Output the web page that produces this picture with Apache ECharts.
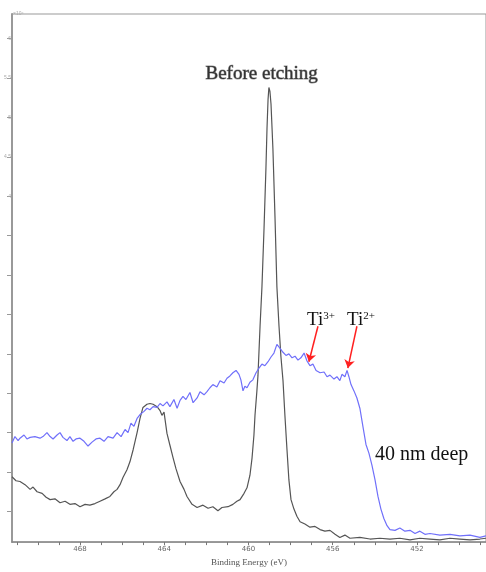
<!DOCTYPE html>
<html>
<head>
<meta charset="utf-8">
<script src="https://cdn.jsdelivr.net/npm/echarts@6/dist/echarts.min.js"></script>
<style>
  html, body { margin: 0; padding: 0; background: #fff; }
  #chart { width: 486px; height: 572px; }
</style>
</head>
<body>
<div id="chart"></div>
<script>
  // binding energy (eV) / intensity (x10^4 counts)
  var beforeEtching = [
    [471.23,0.44],[471.04,0.39],[470.85,0.38],[470.61,0.34],[470.37,0.28],[470.23,0.31],[470.04,0.25],[469.80,0.23],
    [469.61,0.18],[469.42,0.15],[469.19,0.16],[468.95,0.11],[468.71,0.13],[468.48,0.09],[468.24,0.10],[468.00,0.06],
    [467.76,0.09],[467.53,0.08],[467.29,0.10],[467.05,0.13],[466.81,0.16],[466.58,0.19],[466.39,0.25],[466.24,0.28],
    [466.10,0.34],[465.96,0.43],[465.77,0.53],[465.63,0.63],[465.48,0.78],[465.29,1.00],[465.15,1.18],[465.01,1.32],
    [464.82,1.36],[464.68,1.37],[464.53,1.36],[464.34,1.33],[464.20,1.28],[464.11,1.22],[464.01,1.26],[463.87,0.99],
    [463.73,0.84],[463.58,0.68],[463.44,0.54],[463.25,0.38],[463.06,0.28],[462.92,0.19],[462.68,0.09],[462.44,0.05],
    [462.16,0.08],[461.92,0.04],[461.69,0.06],[461.45,0.01],[461.26,0.05],[460.97,0.06],[460.74,0.09],[460.55,0.13],
    [460.40,0.15],[460.21,0.23],[460.07,0.30],[459.93,0.46],[459.83,0.68],[459.74,0.97],[459.69,1.22],[459.60,1.53],
    [459.55,1.72],[459.45,2.35],[459.36,2.85],[459.26,3.60],[459.17,4.36],[459.12,4.86],[459.07,5.23],[459.03,5.38],
    [458.98,5.33],[458.93,5.17],[458.88,4.86],[458.84,4.61],[458.74,3.73],[458.65,2.85],[458.55,2.35],[458.46,1.97],
    [458.36,1.66],[458.27,1.22],[458.17,0.78],[458.08,0.40],[457.98,0.15],[457.84,0.03],[457.70,-0.06],[457.55,-0.13],
    [457.32,-0.16],[457.08,-0.20],[456.84,-0.19],[456.60,-0.23],[456.37,-0.25],[456.13,-0.24],[455.89,-0.29],[455.66,-0.33],
    [455.42,-0.30],[455.18,-0.34],[454.71,-0.33],[454.23,-0.35],[453.76,-0.34],[453.28,-0.35],[452.81,-0.34],[452.33,-0.36],
    [451.86,-0.34],[451.38,-0.35],[450.91,-0.36],[450.43,-0.34],[449.96,-0.35],[449.48,-0.36],[449.01,-0.35],[448.72,-0.34]
  ];

  var deep40nm = [
    [471.23,0.87],[471.09,0.95],[470.94,0.90],[470.85,0.93],[470.66,0.97],[470.52,0.92],[470.37,0.94],[470.14,0.95],
    [469.90,0.93],[469.76,0.95],[469.57,1.00],[469.42,0.95],[469.28,0.92],[469.09,0.97],[468.95,1.00],[468.81,0.94],
    [468.62,0.90],[468.48,0.95],[468.33,0.89],[468.19,0.92],[468.00,0.93],[467.81,0.89],[467.62,0.83],[467.43,0.88],
    [467.24,0.92],[467.05,0.93],[466.86,0.89],[466.67,0.95],[466.43,0.93],[466.24,1.00],[466.05,0.95],[465.86,1.04],
    [465.72,1.00],[465.58,1.12],[465.44,1.08],[465.29,1.18],[465.15,1.23],[464.96,1.27],[464.82,1.31],[464.68,1.29],
    [464.53,1.33],[464.34,1.32],[464.20,1.37],[464.06,1.34],[463.87,1.39],[463.73,1.33],[463.54,1.42],[463.39,1.31],
    [463.25,1.41],[463.11,1.46],[462.97,1.42],[462.78,1.51],[462.63,1.38],[462.44,1.44],[462.30,1.52],[462.11,1.48],
    [461.97,1.52],[461.83,1.57],[461.69,1.61],[461.50,1.58],[461.35,1.66],[461.16,1.63],[461.02,1.69],[460.88,1.72],
    [460.74,1.76],[460.59,1.79],[460.45,1.74],[460.36,1.67],[460.26,1.53],[460.17,1.59],[460.07,1.57],[459.93,1.64],
    [459.79,1.67],[459.64,1.76],[459.50,1.82],[459.36,1.87],[459.22,1.85],[459.07,1.90],[458.93,1.96],[458.79,2.01],
    [458.65,2.12],[458.50,2.07],[458.36,2.02],[458.22,1.98],[458.08,2.00],[457.93,1.95],[457.79,1.97],[457.65,1.92],
    [457.51,1.95],[457.36,2.01],[457.22,1.91],[457.08,1.85],[456.94,1.87],[456.79,1.79],[456.60,1.76],[456.41,1.77],
    [456.27,1.71],[456.13,1.73],[455.94,1.68],[455.80,1.71],[455.66,1.66],[455.56,1.74],[455.42,1.71],[455.32,1.79],
    [455.23,1.71],[455.13,1.61],[454.99,1.53],[454.85,1.44],[454.71,1.31],[454.56,1.07],[454.42,0.85],[454.28,0.74],
    [454.14,0.59],[453.99,0.40],[453.85,0.19],[453.71,0.03],[453.57,-0.09],[453.42,-0.18],[453.28,-0.23],[453.04,-0.24],
    [452.81,-0.21],[452.57,-0.25],[452.33,-0.24],[452.09,-0.28],[451.86,-0.25],[451.62,-0.29],[451.38,-0.28],[450.91,-0.30],
    [450.43,-0.29],[449.96,-0.31],[449.48,-0.30],[449.01,-0.33],[448.72,-0.31]
  ];

  var xTicks = [449,450,451,452,453,454,455,456,457,458,459,460,461,462,463,464,465,466,467,468,469,470,471];
  var xLabels = [452,456,460,464,468];
  var yTicks = [0,0.5,1,1.5,2,2.5,3,3.5,4,4.5,5,5.5,6];
  var yLabels = [4,4.5,5,5.5,6];

  // arrow start / end points (eV, intensity)
  var ti3Arrow = [[456.70,2.35],[457.13,1.90]];
  var ti2Arrow = [[454.85,2.35],[455.28,1.82]];

  var serif = '"Liberation Serif", "DejaVu Serif", serif';

  var myChart = echarts.init(document.getElementById('chart'));

  var option = {
    animation: false,
    backgroundColor: '#fff',
    grid: {
      left: 12,
      right: -2,
      top: 14,
      bottom: 24,
      show: true,
      borderColor: '#999',
      borderWidth: 1
    },
    xAxis: {
      type: 'value',
      inverse: true,
      min: 448.72,
      max: 471.23,
      axisLine: { onZero: false, lineStyle: { color: '#888', width: 1.5 } },
      axisTick: { customValues: xTicks, length: 3, lineStyle: { color: '#777' } },
      axisLabel: { customValues: xLabels, fontSize: 7, color: '#666', margin: 4, fontFamily: 'DejaVu Sans' },
      splitLine: { show: false },
      name: 'Binding Energy (eV)',
      nameLocation: 'middle',
      nameGap: 15,
      nameTextStyle: { fontSize: 9, color: '#555', fontFamily: serif }
    },
    yAxis: {
      type: 'value',
      min: -0.389,
      max: 6.313,
      axisLine: { show: true, onZero: false, lineStyle: { color: '#999', width: 2 } },
      axisTick: { customValues: yTicks, length: 5, lineStyle: { color: '#999' } },
      axisLabel: { customValues: yLabels, fontSize: 5, color: '#aaa', margin: 1 },
      splitLine: { show: false }
    },
    graphic: [
      { type: 'text', left: 13, top: 11, style: { text: '×10⁴', fontSize: 5, fill: '#aaa' } },
      { type: 'text', left: 205, top: 64, style: { text: 'Before etching', fontSize: 19, fontFamily: serif,
        fill: '#333', stroke: '#999', lineWidth: 1 } },
      { type: 'text', left: 375, top: 445, style: { text: '40 nm deep', fontSize: 20, fontFamily: serif, fill: '#111' } },
      { type: 'text', left: 307, top: 311, style: {
        rich: { b: { fontSize: 19, fontFamily: serif, fill: '#111' }, s: { fontSize: 11, fontFamily: serif, fill: '#111', verticalAlign: 'top', padding: [0,0,8,0] } },
        text: '{b|Ti}{s|3+}' } },
      { type: 'text', left: 347, top: 311, style: {
        rich: { b: { fontSize: 19, fontFamily: serif, fill: '#111' }, s: { fontSize: 11, fontFamily: serif, fill: '#111', verticalAlign: 'top', padding: [0,0,8,0] } },
        text: '{b|Ti}{s|2+}' } }
    ],
    series: [
      {
        name: 'Before etching',
        type: 'line',
        data: beforeEtching,
        showSymbol: false,
        lineStyle: { color: '#555', width: 1.2 }
      },
      {
        name: '40 nm deep',
        type: 'line',
        data: deep40nm,
        showSymbol: false,
        lineStyle: { color: '#7070fa', width: 1.2 },
        markLine: {
          silent: true,
          symbol: ['none', 'arrow'],
          symbolSize: 8,
          label: { show: false },
          lineStyle: { color: '#ff2020', width: 1.5, type: 'solid' },
          data: [
            [{ coord: ti3Arrow[0] }, { coord: ti3Arrow[1] }],
            [{ coord: ti2Arrow[0] }, { coord: ti2Arrow[1] }]
          ]
        }
      }
    ]
  };
  myChart.setOption(option);
</script>
</body>
</html>
